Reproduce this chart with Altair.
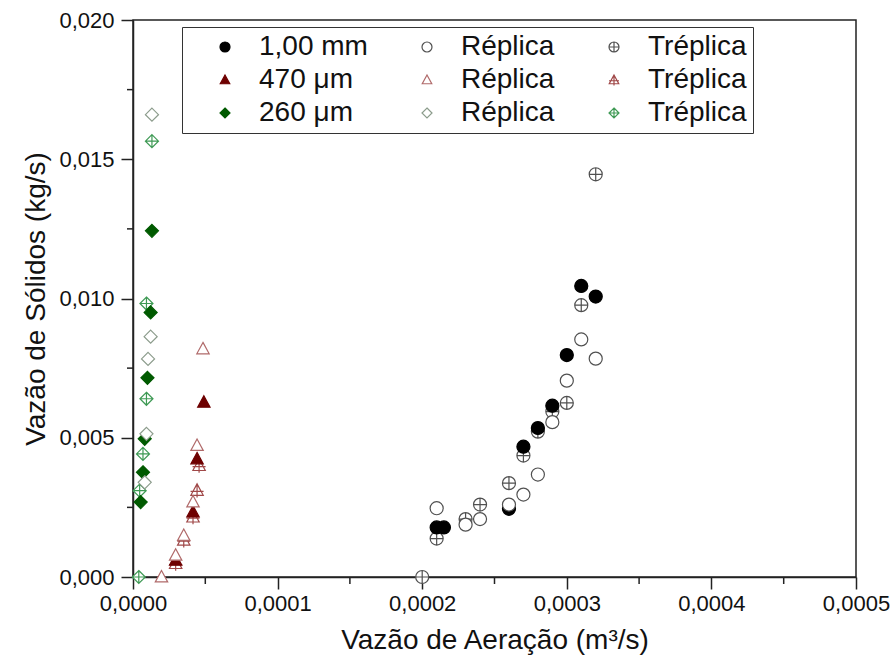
import altair as alt
import pandas as pd

# ---- data ----
# 1,00 mm
x_1mm = [0.000210, 0.000215, 0.00026, 0.00027, 0.00028, 0.00029, 0.00030, 0.00031, 0.00032]
y_1mm = [0.00178, 0.00178, 0.00245, 0.00468, 0.00535, 0.00615, 0.00797, 0.01045, 0.01007]
x_1mm_r = [0.00021, 0.00023, 0.00024, 0.00026, 0.00027, 0.00028, 0.00029, 0.00030, 0.00031, 0.00032]
y_1mm_r = [0.00247, 0.00188, 0.00208, 0.00260, 0.00296, 0.00368, 0.00556, 0.00705, 0.00853, 0.00784]
x_1mm_t = [0.00020, 0.00021, 0.00023, 0.00024, 0.00026, 0.00027, 0.00028, 0.00029, 0.00030, 0.00031, 0.00032]
y_1mm_t = [0.0, 0.00138, 0.00208, 0.00260, 0.00337, 0.00436, 0.00522, 0.00594, 0.00625, 0.00976, 0.01446]

# 470 um
x_470 = [0.0000490, 0.0000443, 0.0000415, 0.0000295]
y_470 = [0.00627, 0.00424, 0.00233, 0.00060]
x_470_r = [0.0000484, 0.0000443, 0.0000415, 0.0000351, 0.0000295, 0.0000197]
y_470_r = [0.00819, 0.00472, 0.00269, 0.00149, 0.00078, 0.0]
x_470_t = [0.0000457, 0.0000443, 0.0000415, 0.0000351, 0.0000295]
y_470_t = [0.00400, 0.00311, 0.00215, 0.00132, 0.00048]

# 260 um
x_260 = [0.0000131, 0.0000122, 0.0000100, 0.0000081, 0.0000069, 0.0000053]
y_260 = [0.01243, 0.00950, 0.00715, 0.00496, 0.00376, 0.00269]
x_260_r = [0.0000131, 0.0000122, 0.0000104, 0.0000093, 0.0000081]
y_260_r = [0.01660, 0.00863, 0.00783, 0.00514, 0.00340]
x_260_t = [0.0000131, 0.0000093, 0.0000093, 0.0000069, 0.0000046, 0.0000040]
y_260_t = [0.01565, 0.00982, 0.00640, 0.00442, 0.00310, 0.0]

# legend entries (column-major order: filled, Réplica, Tréplica columns)
K_1MM, K_470, K_260 = "a|1,00 mm", "b|470 μm", "c|260 μm"
K_1MM_R, K_470_R, K_260_R = "d|Réplica", "e|Réplica", "f|Réplica"
K_1MM_T, K_470_T, K_260_T = "g|Tréplica", "h|Tréplica", "i|Tréplica"
keys = [K_1MM, K_470, K_260, K_1MM_R, K_470_R, K_260_R, K_1MM_T, K_470_T, K_260_T]

y_major = [0.0, 0.005, 0.010, 0.015, 0.020]
y_minor = [0.0025, 0.0075, 0.0125, 0.0175]
x_major = [0.0, 0.0001, 0.0002, 0.0003, 0.0004, 0.0005]
x_minor = [0.00005, 0.00015, 0.00025, 0.00035, 0.00045]

# ---- styles ----
CIRC = "M-1,0 A1,1 0 1,1 1,0 A1,1 0 1,1 -1,0 Z"
CIRC_X = CIRC + " M-1,0 L1,0 M0,-1 L0,1"
TRI = "M0,-1 L0.95,0.75 L-0.95,0.75 Z"
TRI_X = TRI + " M-1,0.15 L1,0.15 M0,-1 L0,1.1"
DIA = "M0,-1 L1,0 L0,1 L-1,0 Z"
DIA_X = DIA + " M-1,0 L1,0 M0,-1 L0,1"
shapes = [CIRC, TRI, DIA, CIRC, TRI, DIA, CIRC_X, TRI_X, DIA_X]
strokes = ["#000000", "#6e0000", "#005a00",
           "#505050", "#b06a6a", "#8c9c8c",
           "#505050", "#a04848", "#3f9a55"]
fills = ["#000000", "#6e0000", "#005a00",
         "#ffffff", "#ffffff", "#ffffff",
         "#ffffff", "#ffffff", "#ffffff"]

rows = []
def add(xs, ys, k):
    for a, b in zip(xs, ys):
        rows.append({"x": a, "y": b, "k": k})

# draw order: Tréplica, filled, Réplica
add(x_1mm_t, y_1mm_t, K_1MM_T); add(x_470_t, y_470_t, K_470_T); add(x_260_t, y_260_t, K_260_T)
add(x_1mm, y_1mm, K_1MM); add(x_470, y_470, K_470); add(x_260, y_260, K_260)
add(x_1mm_r, y_1mm_r, K_1MM_R); add(x_470_r, y_470_r, K_470_R); add(x_260_r, y_260_r, K_260_R)
df = pd.DataFrame(rows)

W, H = 723, 557
FONT = "Liberation Sans"

xscale = alt.Scale(domain=[0, 0.0005], nice=False, zero=False)
yscale = alt.Scale(domain=[0, 0.02], nice=False, zero=False)

x_axis = alt.Axis(
    values=x_major, labelExpr="replace(format(datum.value, '.4f'), '.', ',')",
    title="Vazão de Aeração (m³/s)", tickSize=12, tickWidth=1.5,
    domainWidth=1.5, domainColor="#222", tickColor="#222",
    labelFont=FONT, labelFontSize=22, labelColor="#111", labelPadding=4,
    labelFlush=False, labelOverlap=False,
    titleFont=FONT, titleFontSize=28, titleFontWeight="normal", titleColor="#111",
    titlePadding=12, grid=False)
y_axis = alt.Axis(
    values=y_major, labelExpr="replace(format(datum.value, '.3f'), '.', ',')",
    title="Vazão de Sólidos (kg/s)", tickSize=12, tickWidth=1.5,
    domainWidth=1.5, domainColor="#222", tickColor="#222",
    labelFont=FONT, labelFontSize=22, labelColor="#111", labelPadding=7,
    labelFlush=False, labelOverlap=False,
    titleFont=FONT, titleFontSize=28, titleFontWeight="normal", titleColor="#111",
    titlePadding=8, grid=False)

legend = alt.Legend(
    orient="none", legendX=49, legendY=7, columns=3, title=None,
    labelExpr="split(datum.label, '|')[1]",
    labelFont=FONT, labelFontSize=28, labelColor="#111111", labelLimit=300,
    symbolSize=100, symbolStrokeWidth=1.2, symbolOpacity=1,
    strokeColor="#333333", fillColor="#ffffff", padding=6,
    columnPadding=22, rowPadding=5, labelOffset=20, symbolOffset=23,
)

points = alt.Chart(df).mark_point(opacity=1, strokeWidth=1.2, size=170).encode(
    x=alt.X("x:Q", scale=xscale, axis=x_axis),
    y=alt.Y("y:Q", scale=yscale, axis=y_axis),
    shape=alt.Shape("k:N", scale=alt.Scale(domain=keys, range=shapes), legend=legend),
    stroke=alt.Stroke("k:N", scale=alt.Scale(domain=keys, range=strokes), legend=legend),
    fill=alt.Fill("k:N", scale=alt.Scale(domain=keys, range=fills), legend=legend),
)

ymin_df = pd.DataFrame({"v": y_minor})
xmin_df = pd.DataFrame({"v": x_minor})
yminor = alt.Chart(ymin_df).mark_rule(color="#222", strokeWidth=1.5).encode(
    y=alt.Y("v:Q", scale=yscale, axis=y_axis), x=alt.value(-6), x2=alt.value(0))
xminor = alt.Chart(xmin_df).mark_rule(color="#222", strokeWidth=1.5).encode(
    x=alt.X("v:Q", scale=xscale, axis=x_axis), y=alt.value(H), y2=alt.value(H + 7))

chart = alt.layer(points, yminor, xminor).properties(
    width=W, height=H,
    autosize=alt.AutoSizeParams(type="none"),
    padding={"left": 133, "top": 20, "right": 37, "bottom": 92},
    background="white",
).configure_view(stroke="#222", strokeWidth=1.5)

chart.save("out.html", embed_options={"renderer": "svg", "actions": False})
